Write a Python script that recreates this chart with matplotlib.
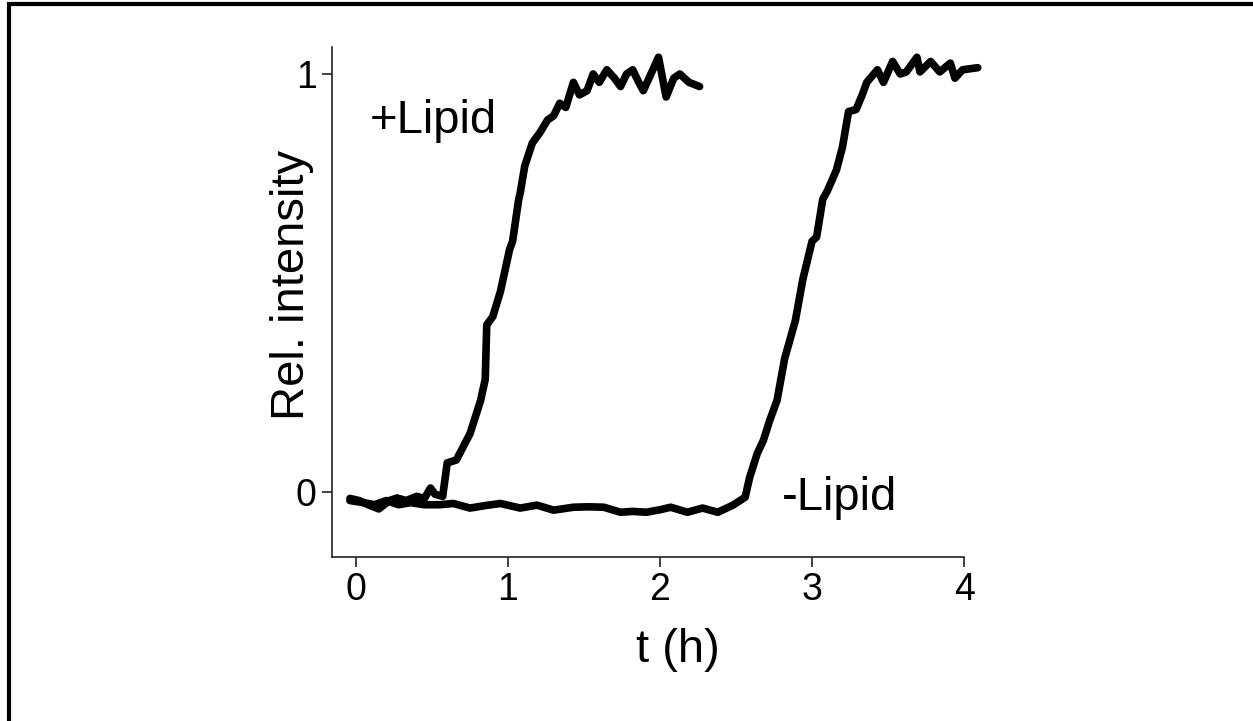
import numpy as np
import matplotlib
matplotlib.use("Agg")
import matplotlib.pyplot as plt
from matplotlib.patches import Rectangle

# time (h) and relative intensity
t_plus = [-0.04, 0.02, 0.08, 0.15, 0.22, 0.27, 0.33, 0.40, 0.45, 0.49, 0.52, 0.57,
          0.60, 0.66, 0.75, 0.82, 0.85, 0.86, 0.90, 0.95, 1.01, 1.03, 1.07, 1.08,
          1.11, 1.16, 1.21, 1.26, 1.30, 1.34, 1.38, 1.43, 1.47, 1.52, 1.56, 1.60,
          1.65, 1.70, 1.74, 1.78, 1.82, 1.86, 1.89, 1.94, 1.99, 2.04, 2.09, 2.13,
          2.19, 2.26]
v_plus = [-0.015, -0.02, -0.03, -0.04, -0.02, -0.014, -0.02, -0.01, -0.015, 0.01,
          -0.005, -0.01, 0.07, 0.077, 0.14, 0.22, 0.27, 0.40, 0.42, 0.48, 0.58, 0.60,
          0.70, 0.715, 0.78, 0.835, 0.86, 0.89, 0.90, 0.93, 0.92, 0.98, 0.95, 0.96,
          1.00, 0.98, 1.01, 0.99, 0.97, 1.00, 1.01, 0.98, 0.96, 1.00, 1.04, 0.945,
          0.99, 1.00, 0.98, 0.97]

t_minus = [-0.04, 0.05, 0.12, 0.20, 0.28, 0.36, 0.45, 0.55, 0.64, 0.75, 0.85, 0.95,
           1.08, 1.19, 1.30, 1.43, 1.53, 1.63, 1.74, 1.82, 1.91, 2.00, 2.07, 2.18,
           2.28, 2.38, 2.48, 2.56, 2.59, 2.64, 2.68, 2.72, 2.77, 2.82, 2.89, 2.94,
           3.00, 3.03, 3.07, 3.10, 3.16, 3.20, 3.24, 3.29, 3.33, 3.36, 3.43, 3.47,
           3.53, 3.58, 3.62, 3.69, 3.71, 3.78, 3.84, 3.91, 3.94, 3.99, 4.09]
v_minus = [-0.02, -0.025, -0.03, -0.02, -0.03, -0.025, -0.03, -0.03, -0.027, -0.038,
           -0.032, -0.027, -0.038, -0.031, -0.043, -0.036, -0.035, -0.036, -0.048,
           -0.046, -0.048, -0.042, -0.036, -0.048, -0.038, -0.048, -0.031, -0.012,
           0.036, 0.093, 0.124, 0.17, 0.22, 0.32, 0.41, 0.51, 0.60, 0.61, 0.70, 0.72,
           0.77, 0.825, 0.91, 0.915, 0.95, 0.98, 1.01, 0.98, 1.03, 1.00, 1.005, 1.04,
           1.005, 1.03, 1.005, 1.026, 0.99, 1.01, 1.015]

x_ticks = [0, 1, 2, 3, 4]
y_ticks = [0, 1]

plt.rcParams['font.family'] = ['Liberation Sans', 'DejaVu Sans']

W, H = 1253, 721
fig = plt.figure(figsize=(W / 100, H / 100), dpi=100)

# axes placed in pixels of the reference
x0, x1 = 332, 982
y_top, y_bot = 44.7, 557
ax = fig.add_axes([x0 / W, 1 - y_bot / H, (x1 - x0) / W, (y_bot - y_top) / H])

ax.plot(t_plus, v_plus, color='black', lw=5.5, solid_capstyle='round', solid_joinstyle='round')
ax.plot(t_minus, v_minus, color='black', lw=5.5, solid_capstyle='round', solid_joinstyle='round')

ax.set_xlim(-0.158, 4.118)
ax.set_ylim(-0.155, 1.07)
ax.set_xticks(x_ticks)
ax.set_yticks(y_ticks)
ax.spines['top'].set_visible(False)
ax.spines['right'].set_visible(False)
ax.spines['bottom'].set_bounds(-0.158, 4.0)
ax.spines['left'].set_bounds(-0.155, 1.065)
for s in ('left', 'bottom'):
    ax.spines[s].set_linewidth(1.2)
    ax.spines[s].set_color('#222222')
ax.tick_params(length=7, width=1.2, color='#222222', labelsize=27, pad=4)

ax.text(0.09, 0.859, '+Lipid', fontsize=34, va='baseline', ha='left')
ax.text(2.80, -0.043, '-Lipid', fontsize=34, va='baseline', ha='left')

ax.set_xlabel('t (h)', fontsize=34)
ax.xaxis.set_label_coords(0.532, -0.139)
ax.xaxis.label.set_va('top')
ax.set_ylabel('Rel. intensity', fontsize=34)
ax.yaxis.set_label_coords(-0.028, 0.531)

# outer frame, open at the right and bottom edges like the reference
fig.patches.append(Rectangle((8.5 / W, -0.2), 1.5, 1 - 3.5 / H + 0.2,
                             transform=fig.transFigure, fill=False,
                             edgecolor='black', lw=3, clip_on=False))

fig.savefig('out.png', dpi=100)
